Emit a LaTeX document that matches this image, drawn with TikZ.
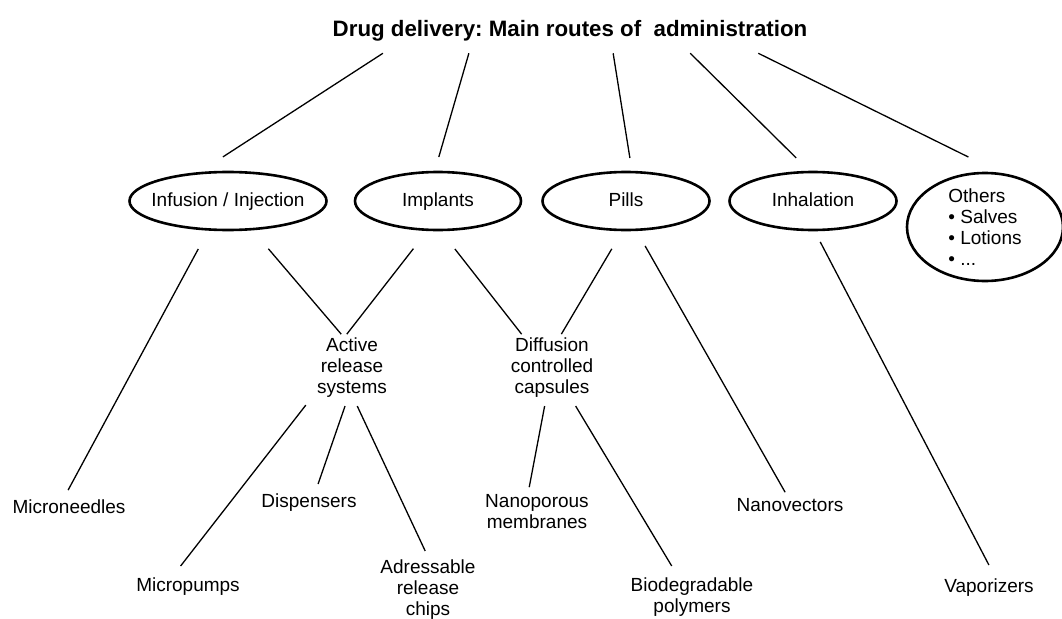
\documentclass[tikz,border=0pt]{standalone}
\usepackage{fontspec}
\setmainfont{Liberation Sans}
\usetikzlibrary{calc, shapes.geometric}
\frenchspacing

\begin{document}
\begin{tikzpicture}[x=1pt, y=-1pt,
    head/.style={font=\fontsize{22.3}{26}\selectfont\bfseries, inner sep=0pt},
    route/.style={ellipse, draw, line width=2.6pt, minimum height=58pt, inner xsep=-10pt, inner ysep=-8pt, outer sep=0pt, font=\fontsize{19}{21}\selectfont},
    oneline/.style={text height=14pt, text depth=4pt},
    leaf/.style={align=center, inner sep=3pt, font=\fontsize{19}{21}\selectfont},
    link/.style={line width=1.3pt},
  ]
    \useasboundingbox (0,0) rectangle (1062,618);
    \node[head, anchor=base] (title) at (570,37) {Drug delivery: Main routes of~~administration};

    \node[route, oneline, minimum width=197pt] (inf) at (228,201) {Infusion / Injection};
    \node[route, oneline, minimum width=166pt] (impl) at (438,201) {Implants};
    \node[route, oneline, minimum width=167pt] (pills) at (626,201) {Pills};
    \node[route, oneline, minimum width=167pt] (inhal) at (813,201) {Inhalation};
    \node[route, minimum width=156pt, minimum height=108pt, align=left] (others) at (985,227) {Others\\\textbullet\ Salves\\\textbullet\ Lotions\\\textbullet\ ...};

    \node[leaf] (active) at (352,368) {Active\\release\\systems};
    \node[leaf] (diff) at (552,368) {Diffusion\\controlled\\capsules};

    \node[leaf] (mneedle) at (69,507) {Microneedles};
    \node[leaf] (mpump) at (188,587) {Micropumps};
    \node[leaf] (disp) at (309,503) {Dispensers};
    \node[leaf] (chips) at (428,590) {Adressable\\release\\chips};
    \node[leaf] (nanopor) at (537,512) {Nanoporous\\membranes};
    \node[leaf] (biodeg) at (692,597) {Biodegradable\\polymers};
    \node[leaf] (nanovec) at (790,505) {Nanovectors};
    \node[leaf] (vapor) at (989,588) {Vaporizers};

    \draw[link, shorten <=20.9pt, shorten >=30.4pt] ($(title.south west)!0.143!(title.south east)$) -- (inf.138);
    \draw[link, shorten <=11.8pt, shorten >=15.6pt] ($(title.south west)!0.294!(title.south east)$) -- (impl.97);
    \draw[link, shorten <=11.5pt, shorten >=14.3pt] ($(title.south west)!0.587!(title.south east)$) -- (pills.78);
    \draw[link, shorten <=16.1pt, shorten >=20pt] ($(title.south west)!0.729!(title.south east)$) -- (inhal.95);
    \draw[link, shorten <=25.6pt, shorten >=39.8pt] ($(title.south west)!0.848!(title.south east)$) -- (others.70);

    \draw[link, shorten <=22.2pt, shorten >=7.6pt] (inf.-124) -- (mneedle.114);
    \draw[link, shorten <=25.8pt, shorten >=1pt] (inf.-50) -- (active.107);
    \draw[link, shorten <=23.9pt, shorten >=1pt] (impl.-109) -- (active.100);
    \draw[link, shorten <=24.1pt, shorten >=1pt] (impl.-86) -- (diff.132);
    \draw[link, shorten <=21.9pt, shorten >=1pt] (pills.-96) -- (diff.75);
    \draw[link, shorten <=18.6pt, shorten >=3.4pt] (pills.-71) -- (nanovec.108);
    \draw[link, shorten <=13.5pt, shorten >=12.4pt] (inhal.-88) -- (vapor.65);

    \draw[link, shorten <=13.3pt, shorten >=11.3pt] (active.-145) -- (mpump.140);
    \draw[link, shorten <=5.3pt, shorten >=7.4pt] (active.-99) -- (disp.61);
    \draw[link, shorten <=5.5pt, shorten >=6.6pt] (active.-85) -- (chips.north);
    \draw[link, shorten <=5.1pt, shorten >=4.6pt] (diff.-101) -- (nanopor.113);
    \draw[link, shorten <=5.8pt, shorten >=9.9pt] (diff.-58) -- (biodeg.124);
  \end{tikzpicture}
\end{document}
